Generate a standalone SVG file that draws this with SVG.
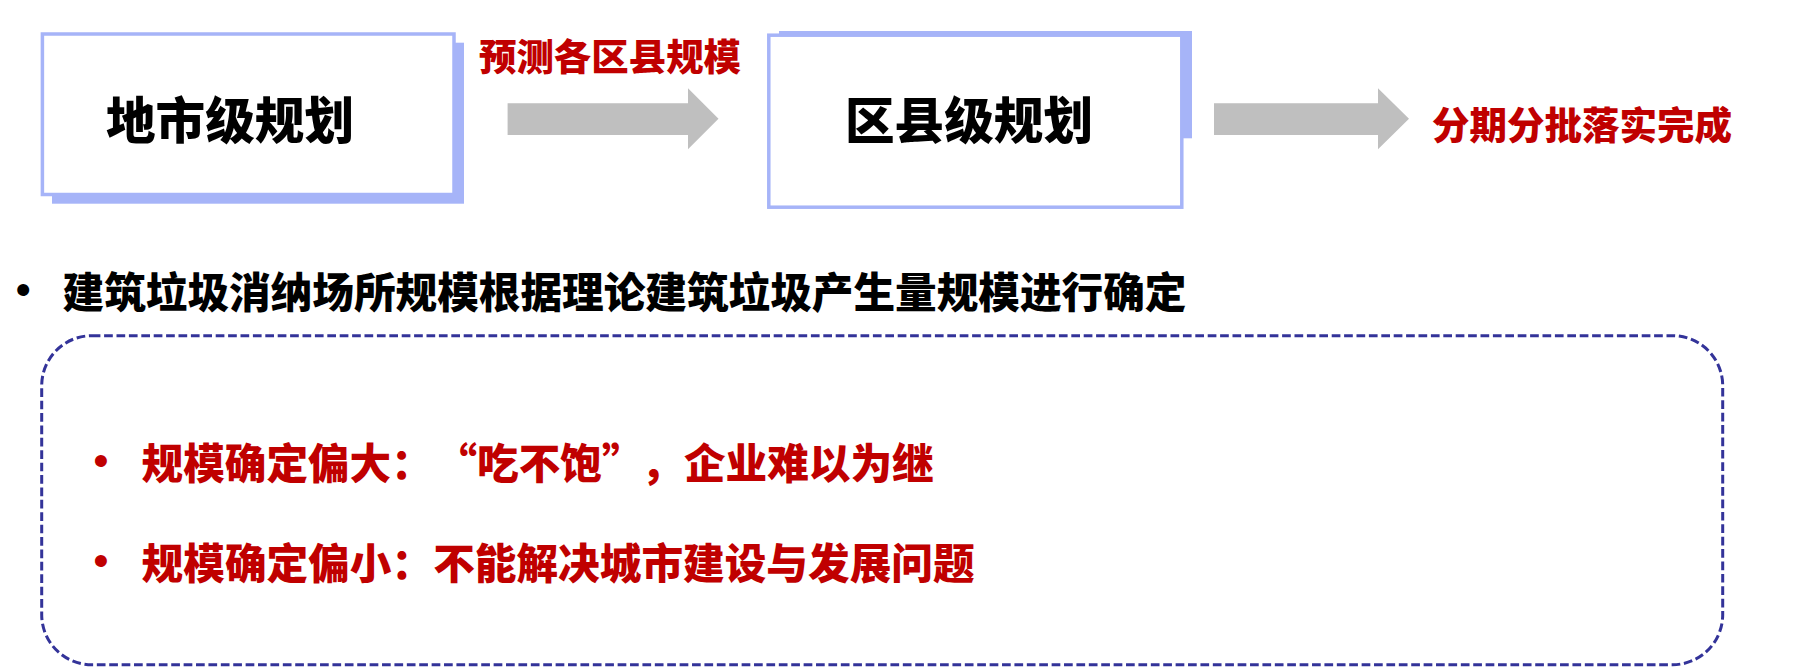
<svg xmlns="http://www.w3.org/2000/svg" width="1802" height="668" viewBox="0 0 1802 668">
  <style>
    .shadow { fill: #A6B4F8; stroke: none; }
    .box { fill: #FFFFFF; stroke: #A6B4F8; stroke-width: 3.5; }
    .cjk { font-family: "Noto Sans CJK SC", "Noto Sans", sans-serif; font-weight: 900; dominant-baseline: central; }
    .title { font-size: 49.6px; fill: #000000; text-anchor: middle; }
    .red { fill: #C00000; }
    .black { fill: #000000; }
    .bullet { font-family: "Liberation Sans", Arial, sans-serif; font-size: 44px; dominant-baseline: central; text-anchor: middle; }
    .arrow { fill: #BFBFBF; stroke: none; }
    .frame { fill: none; stroke: #333399; stroke-width: 3; stroke-dasharray: 8.7 3.7; }
  </style>
  <rect width="1802" height="668" fill="#FFFFFF"/>

  <g id="node-city">
    <rect class="shadow" x="52" y="42.7" width="412" height="161"/>
    <rect class="box" x="42.4" y="34" width="411.6" height="160.5"/>
    <text class="cjk title" x="230" y="116.5">地市级规划</text>
  </g>

  <g id="node-county">
    <rect class="shadow" x="779" y="31" width="413" height="107.3"/>
    <rect class="box" x="768.8" y="35.2" width="413" height="172"/>
    <text class="cjk title" x="969" y="116.5">区县级规划</text>
  </g>

  <g id="connectors">
    <polygon class="arrow" points="507.6,103.3 688,103.3 688,88.3 718.5,118.8 688,149.3 688,135 507.6,135"/>
    <polygon class="arrow" points="1214,103.3 1378,103.3 1378,88.3 1409,118.8 1378,149.3 1378,135 1214,135"/>
    <text class="cjk red" x="479" y="54.7" font-size="37.4" textLength="262" lengthAdjust="spacingAndGlyphs">预测各区县规模</text>
  </g>

  <g id="node-result">
    <text class="cjk red" x="1432" y="122" font-size="37.5" textLength="300" lengthAdjust="spacingAndGlyphs">分期分批落实完成</text>
  </g>

  <g id="statement">
    <text class="bullet black" x="23.3" y="289">•</text>
    <text class="cjk black" x="62.5" y="290" font-size="41.6" textLength="1124" lengthAdjust="spacingAndGlyphs">建筑垃圾消纳场所规模根据理论建筑垃圾产生量规模进行确定</text>
  </g>

  <g id="node-frame">
    <rect class="frame" x="41.7" y="335.7" width="1681" height="329" rx="50" ry="50"/>
    <text class="bullet red" x="101" y="460">•</text>
    <text class="cjk red" y="461" font-size="41.6"><tspan x="141.6">规模确定偏大：</tspan><tspan x="435.5">“吃不饱”</tspan><tspan x="641">，</tspan><tspan x="684">企业难以为继</tspan></text>
    <text class="bullet red" x="101" y="560">•</text>
    <text class="cjk red" x="141.6" y="561" font-size="41.6" textLength="833" lengthAdjust="spacingAndGlyphs">规模确定偏小：不能解决城市建设与发展问题</text>
  </g>
</svg>
